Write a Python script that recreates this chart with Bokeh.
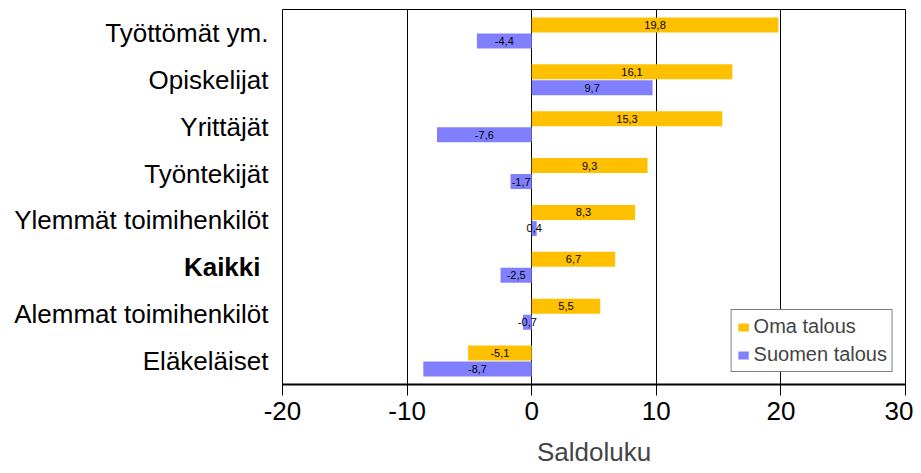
from bokeh.plotting import figure
from bokeh.models import Range1d, FixedTicker, ColumnDataSource, LinearAxis
from bokeh.embed import file_html
from bokeh.resources import INLINE
from bokeh.core.properties import value

categories = ["Työttömät ym.", "Opiskelijat", "Yrittäjät", "Työntekijät",
              "Ylemmät toimihenkilöt", "Kaikki", "Alemmat toimihenkilöt", "Eläkeläiset"]
oma_talous = [19.8, 16.1, 15.3, 9.3, 8.3, 6.7, 5.5, -5.1]
suomen_talous = [-4.4, 9.7, -7.6, -1.7, 0.4, -2.5, -0.7, -8.7]
x_ticks = [-20, -10, 0, 10, 20, 30]
x_tick_labels = ["-20", "-10", "0", "10", "20", "30"]
series_names = ["Oma talous", "Suomen talous"]
bold_category = "Kaikki"

FONT = "Liberation Sans"
ORANGE = "#FFC000"
BLUE = "#8080FF"
n = len(categories)
pos = [n - 1 - i for i in range(n)]
off = 0.17
bh = 0.32

def fmt(v):
    return ("%.1f" % v).replace(".", ",")

src_o = ColumnDataSource(dict(y=[p_ + off for p_ in pos], v=oma_talous,
                              xm=[v / 2 for v in oma_talous], t=[fmt(v) for v in oma_talous]))
src_s = ColumnDataSource(dict(y=[p_ - off for p_ in pos], v=suomen_talous,
                              xm=[v / 2 for v in suomen_talous], t=[fmt(v) for v in suomen_talous]))

p = figure(frame_width=623, frame_height=375, output_backend="svg", toolbar_location=None,
           x_range=Range1d(-20, 30), y_range=Range1d(-0.5, n - 0.5), y_axis_location=None,
           min_border_left=282, min_border_right=8, min_border_top=9, min_border_bottom=89)
p.outline_line_color = "black"
p.outline_line_width = 1
p.background_fill_color = "white"
p.border_fill_color = "white"

p.hbar(y="y", right="v", left=0, height=bh, source=src_o, fill_color=ORANGE,
       line_color=None, legend_label=series_names[0])
p.hbar(y="y", right="v", left=0, height=bh, source=src_s, fill_color=BLUE,
       line_color=None, legend_label=series_names[1])

for s in (src_o, src_s):
    p.text(x="xm", y="y", text="t", source=s, text_font=value(FONT), text_font_size="11px",
           text_align="center", text_baseline="middle", text_color="black")

# grid
p.xgrid.ticker = FixedTicker(ticks=x_ticks)
p.xgrid.grid_line_color = "black"
p.xgrid.grid_line_width = 1

# x axis
p.xaxis.ticker = FixedTicker(ticks=x_ticks)
p.xaxis.major_label_overrides = dict(zip(x_ticks, x_tick_labels))
p.xaxis.axis_label = "Saldoluku"
p.xaxis.axis_label_text_font = FONT
p.xaxis.axis_label_text_font_size = "26px"
p.xaxis.axis_label_text_font_style = "normal"
p.xaxis.axis_label_standoff = 14
p.xaxis.major_label_text_font = FONT
p.xaxis.major_label_text_font_size = "26px"
p.xaxis.major_label_text_color = "black"
p.xaxis.major_label_standoff = 6
p.xaxis.major_tick_in = 0
p.xaxis.major_tick_out = 11
p.xaxis.minor_tick_line_color = None
p.xaxis.axis_line_color = "black"
p.xaxis.axis_line_width = 2
p.xaxis.major_tick_line_color = "black"

k = categories.index(bold_category)
common = dict(major_label_text_font=FONT, major_label_text_font_size="26px",
              major_label_text_color="black", major_tick_line_color=None,
              minor_tick_line_color=None, axis_line_color=None)

# inner axis: the bold category
bold_axis = LinearAxis(ticker=FixedTicker(ticks=[pos[k]]),
                       major_label_overrides={pos[k]: bold_category},
                       major_label_text_font_style="bold", major_label_standoff=16, **common)
# outer axis: all other categories, pulled back next to the frame
main_axis = LinearAxis(ticker=FixedTicker(ticks=[pos[i] for i in range(n) if i != k]),
                       major_label_overrides={pos[i]: categories[i] for i in range(n) if i != k},
                       major_label_standoff=-94, **common)
p.add_layout(bold_axis, "left")
p.add_layout(main_axis, "left")
p.ygrid.grid_line_color = None

# legend
lg = p.legend[0]
lg.location = "bottom_right"
lg.margin = 12
lg.border_line_color = "black"
lg.border_line_width = 1
lg.label_text_font = FONT
lg.label_text_font_size = "20px"
lg.glyph_width = 13
lg.glyph_height = 10
lg.label_standoff = 4
lg.spacing = 5
lg.padding = 5
lg.label_height = 20
lg.background_fill_alpha = 1

open("out.html", "w").write(file_html(p, INLINE))
